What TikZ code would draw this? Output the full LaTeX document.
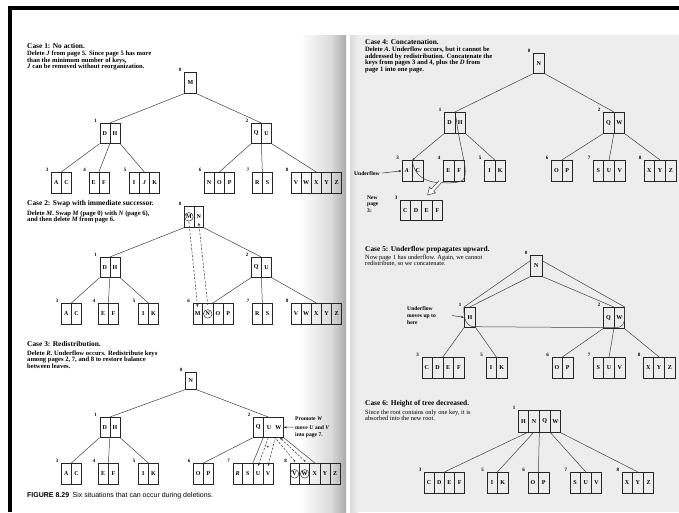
\documentclass[tikz,border=0pt]{standalone}
\usepackage{fontspec}
\setmainfont{Liberation Serif}
\setsansfont{Liberation Sans}
\usetikzlibrary{calc,arrows.meta}
\tikzset{
  pgbox/.style={draw=black!85,line width=0.7pt,minimum height=21pt,inner sep=0pt},
  pgdiv/.style={draw=black!85,line width=0.6pt},
  keyt/.style={font=\fontsize{6}{6}\selectfont\bfseries,inner sep=0pt},
  lbl/.style={font=\fontsize{5}{5}\selectfont\bfseries,inner sep=0pt},
  edge/.style={draw=black!75,line width=0.5pt},
  head/.style={anchor=base west,inner sep=0pt,font=\fontsize{7.4}{7.4}\selectfont\bfseries},
  body/.style={anchor=base west,inner sep=0pt,font=\fontsize{6.6}{6.7}\selectfont\bfseries},
  bodyr/.style={anchor=base west,inner sep=0pt,font=\fontsize{6.4}{6.7}\selectfont},
  note/.style={anchor=base west,inner sep=0pt,font=\fontsize{5.6}{6.6}\selectfont\bfseries},
  circ/.style={draw=black!80,line width=0.5pt},
  dasharr/.style={draw=black!80,line width=0.5pt,dashed,dash pattern=on 2.2pt off 1.5pt,-{Stealth[length=3pt,width=2.4pt]}},
  ptarr/.style={draw=black!80,line width=0.5pt,-{Stealth[length=3pt,width=2.4pt]}},
}
\newcommand\pg[6][]{%
  \def\pgn{0}%
  \foreach \k in {#6}{\xdef\pgn{\the\numexpr\pgn+1\relax}}%
  \node[pgbox,minimum width={\pgn*#4pt},anchor=north west,#1] (#2) at #3 {};%
  \foreach \k [count=\i] in {#6}{%
    \node[keyt] at ($(#2.west)!{(\i-0.5)/\pgn}!(#2.east)$) {\k};}%
  \ifnum\pgn>1\relax
    \foreach \i in {2,...,\pgn}{%
      \draw[pgdiv] ($(#2.north west)!{(\i-1)/\pgn}!(#2.north east)$) -- ($(#2.south west)!{(\i-1)/\pgn}!(#2.south east)$);}%
  \fi
  \node[lbl] at ($(#2.north west)+(-4,-2)$) {#5};%
}
\newcommand\ed[4][]{\draw[edge,#1] ($(#2.south west)!#3!(#2.south east)$) -- (#4.north);}
\begin{document}
\begin{tikzpicture}[x=1pt,y=-1pt]
\useasboundingbox (0,0) rectangle (679,512);
% backgrounds
\fill[white] (0,0) rectangle (679,512);
\shade[left color=white,right color=gray!30] (300,35) rectangle (333,512);
\shade[left color=gray!35,right color=gray!65] (333,35) rectangle (346,512);
\fill[gray!14] (350,35) rectangle (679,512);
\shade[left color=gray!28,right color=gray!14] (350,35) rectangle (358,512);
\fill[black] (8,6) rectangle (679,10);
\fill[black] (8,6) rectangle (12,512);

% ---------------- Case 1
\node[head] (t1) at (27,48) {Case 1: No action.};
\node[body] (t1a) at (27,55.5) {Delete \textit{J} from page 5. Since page 5 has more};
\node[body] (t1b) at (27,62.2) {than the minimum number of keys,};
\node[body] (t1c) at (27,68.9) {\textit{J} can be removed without reorganization.};
\pg[minimum height=21pt]{c1r}{(184,72)}{12}{0}{M}
\pg[minimum height=20pt]{c1a}{(99.5,123)}{10}{1}{D,H}
\pg[minimum height=20pt]{c1b}{(251,123)}{10}{2}{Q,U}
\pg{c1l3}{(51,172)}{10}{3}{A,C}
\pg{c1l4}{(88.5,172)}{10}{4}{E,F}
\pg{c1l5}{(129,172)}{10}{5}{I,\textit{J},K}
\pg{c1l6}{(204,172)}{10}{6}{N,O,P}
\pg{c1l7}{(252,172)}{10}{7}{R,S}
\pg{c1l8}{(291,172)}{10}{8}{V,W,X,Y,Z}
\ed{c1r}{0}{c1a} \ed{c1r}{1}{c1b}
\ed{c1a}{0}{c1l3} \ed{c1a}{0.5}{c1l4} \ed{c1a}{1}{c1l5}
\ed{c1b}{0}{c1l6} \ed{c1b}{0.5}{c1l7} \ed{c1b}{1}{c1l8}

% ---------------- Case 2
\node[head] (t2) at (27,205.5) {Case 2: Swap with immediate successor.};
\node[body] (t2a) at (27,215) {Delete \textit{M}. Swap \textit{M} (page 0) with \textit{N} (page 6),};
\node[body] (t2b) at (27,221.7) {and then delete \textit{M} from page 6.};
\pg{c2r}{(184,206)}{9.5}{0}{M,N}
\pg[minimum height=20pt]{c2a}{(99.5,257)}{10}{1}{D,H}
\pg[minimum height=20pt]{c2b}{(251,257)}{10}{2}{Q,U}
\pg{c2l3}{(61,303)}{10}{3}{A,C}
\pg{c2l4}{(98,303)}{10}{4}{E,F}
\pg{c2l5}{(138,303)}{10}{5}{I,K}
\pg{c2l6}{(192.5,303)}{10}{6}{M,N,O,P}
\pg{c2l7}{(252,303)}{10}{7}{R,S}
\pg{c2l8}{(291,303)}{10}{8}{V,W,X,Y,Z}
\ed{c2r}{0}{c2a} \ed{c2r}{1}{c2b}
\ed{c2a}{0}{c2l3} \ed{c2a}{0.5}{c2l4} \ed{c2a}{1}{c2l5}
\ed{c2b}{0}{c2l6} \ed{c2b}{0.5}{c2l7} \ed{c2b}{1}{c2l8}
\draw[circ] ($(c2r.west)!0.25!(c2r.east)$) circle (4.3pt);
\draw[circ] ($(c2l6.west)!0.375!(c2l6.east)$) circle (4.3pt);
\draw[dasharr] ($(c2r.west)!0.25!(c2r.east)+(0,5)$) -- ($(c2l6.north west)!0.125!(c2l6.north east)+(0,4)$);
\draw[dasharr] ($(c2l6.north west)!0.375!(c2l6.north east)+(0,2)$) -- ($(c2r.west)!0.75!(c2r.east)+(0,6)$);

% ---------------- Case 3
\node[head] (t3) at (27,346.5) {Case 3: Redistribution.};
\node[body] (t3a) at (27,355) {Delete \textit{R}. Underflow occurs. Redistribute keys};
\node[body] (t3b) at (27,361.7) {among pages 2, 7, and 8 to restore balance};
\node[body] (t3c) at (27,368.4) {between leaves.};
\pg[minimum height=17pt]{c3r}{(185,372)}{11}{0}{N}
\pg[minimum height=20pt]{c3a}{(99.5,417)}{10}{1}{D,H}
\node[pgbox,minimum width=30pt,minimum height=20pt,anchor=north west] (c3b) at (253,417) {};
\draw[pgdiv] ($(c3b.north west)!{1/3}!(c3b.north east)$) -- ($(c3b.south west)!{1/3}!(c3b.south east)$);
\node[keyt] at ($(c3b.west)!{1/6}!(c3b.east)$) {Q};
\node[keyt] at ($(c3b.west)!0.52!(c3b.east)$) {U};
\node[keyt] at ($(c3b.west)!0.83!(c3b.east)$) {W};
\node[lbl] at ($(c3b.north west)+(-4,-2)$) {2};
\pg{c3l3}{(61,463)}{10}{3}{A,C}
\pg{c3l4}{(98,463)}{10}{4}{E,F}
\pg{c3l5}{(138,463)}{10}{5}{I,K}
\pg{c3l6}{(193,463)}{10}{6}{O,P}
\pg{c3l7}{(232.5,463)}{10}{7}{\textit{R},S,U,V}
\pg{c3l8}{(289.5,463)}{10}{8}{V,W,X,Y,Z}
\ed{c3r}{0}{c3a} \ed{c3r}{1}{c3b}
\ed{c3a}{0}{c3l3} \ed{c3a}{0.5}{c3l4} \ed{c3a}{1}{c3l5}
\ed{c3b}{0}{c3l6} \ed{c3b}{0.333}{c3l7} \ed{c3b}{1}{c3l8}
\draw[circ] ($(c3l8.west)!0.1!(c3l8.east)$) circle (4.3pt);
\draw[circ] ($(c3l8.west)!0.3!(c3l8.east)$) circle (4.3pt);
\draw[dasharr] ($(c3b.south west)!0.5!(c3b.south east)$) -- ($(c3l7.north west)!0.625!(c3l7.north east)+(0,3)$);
\draw[dasharr] ($(c3l8.north west)!0.1!(c3l8.north east)+(0,-2)$) -- ($(c3b.south west)!0.72!(c3b.south east)$) -- ($(c3l7.north west)!0.875!(c3l7.north east)+(0,3)$);
\draw[dasharr] ($(c3l8.north west)!0.3!(c3l8.north east)+(0,-2)$) -- ($(c3b.south west)!0.88!(c3b.south east)$);
\fill[black!80] ($(c3b.south west)!0.5!(c3b.south east)+(-0.5,9)$) circle (0.9pt);
\fill[black!80] ($(c3l8.north west)!0.1!(c3l8.north east)+(0,-2)$) circle (0.9pt);
\fill[black!80] ($(c3l8.north west)!0.3!(c3l8.north east)+(0,-2)$) circle (0.9pt);
\node[note] (pr1) at (295,420) {Promote \textit{W}};
\node[note] (pr2) at (295,429) {move \textit{U} and \textit{V}};
\node[note] (pr3) at (295,436) {into page 7.};
\coordinate (promoarr) at (294,427);
\draw[ptarr] (promoarr) -- (c3b.east);

\node[anchor=base west,inner sep=0pt,font=\sffamily\fontsize{7}{8}\selectfont] (cap) at (27,497.5) {\textbf{FIGURE 8.29}\enspace Six situations that can occur during deletions.};

% ---------------- Case 4
\node[head] (t4) at (365,44) {Case 4: Concatenation.};
\node[body] (t4a) at (365,51.5) {Delete \textit{A}. Underflow occurs, but it cannot be};
\node[body] (t4b) at (365,58.2) {addressed by redistribution. Concatenate the};
\node[body] (t4c) at (365,64.9) {keys from pages 3 and 4, plus the \textit{D} from};
\node[body] (t4d) at (365,71.6) {page 1 into one page.};
\pg[minimum height=20pt]{c4r}{(533,53)}{11}{0}{N}
\pg{c4a}{(444,112)}{10.5}{1}{D,H}
\pg{c4b}{(603,112)}{10.5}{2}{Q,W}
\pg{c4l3}{(401.5,160)}{10.5}{3}{\textit{A},C}
\pg{c4l4}{(443,160)}{10.5}{4}{E,F}
\pg{c4l5}{(484,160)}{10.5}{5}{I,K}
\pg{c4l6}{(551,160)}{10.5}{6}{O,P}
\pg{c4l7}{(593,160)}{10.5}{7}{S,U,V}
\pg{c4l8}{(644,160)}{10.5}{8}{X,Y,Z}
\pg[minimum height=20pt]{c4n}{(400,200)}{10.5}{3}{C,D,E,F}
\ed{c4r}{0}{c4a} \ed{c4r}{1}{c4b}
\draw[edge,-{Stealth[length=2.5pt,width=2pt]}] (c4a.south west) -- (c4l3.north);
\ed{c4a}{1}{c4l5}
\ed{c4b}{0}{c4l6} \ed{c4b}{0.5}{c4l7} \ed{c4b}{1}{c4l8}
\draw[edge] ($(c4a.north west)!0.55!(c4a.north east)+(0,5)$) .. controls ($(c4a.south)+(6,20)$) and ($(c4l4.east)+(4,0)$) .. ($(c4l4.south east)+(-1,-3)$) .. controls ($(c4l4.south east)+(-3,2)$) and ($(c4l4.south west)+(5,1)$) .. ($(c4l4.south west)+(-2,1)$);
\draw[edge] (c4l3.north) .. controls ($(c4l3.center)+(1,4)$) and ($(c4l3.south east)+(2,1)$) .. ($(c4l4.south west)+(-2,1)$);
\begin{scope}[shift={(440,182)},rotate=226.7]
\draw[edge,fill=white] (0,-1.6) -- (11,-1.6) -- (11,-4.2) -- (18,0) -- (11,4.2) -- (11,1.6) -- (0,1.6);
\end{scope}
\node[note] (uf4) at (354,175) {Underflow};
\draw[ptarr] (uf4.east) ++(2,0) -- (c4l3.west);
\node[note] (np1) at (367,199) {New};
\node[note] (np2) at (367,205.5) {page};
\node[note] (np3) at (367,212) {3:};

% ---------------- Case 5
\node[head] (t5) at (365,251.5) {Case 5: Underflow propagates upward.};
\node[bodyr] (t5a) at (365,259) {Now page 1 has underflow. Again, we cannot};
\node[bodyr] (t5b) at (365,265.7) {redistribute, so we concatenate.};
\pg[minimum height=21pt]{c5r}{(530,255)}{12}{0}{N}
\pg[minimum height=20pt]{c5a}{(464,307)}{11}{1}{H}
\pg{c5b}{(603,307)}{10.5}{2}{Q,W}
\pg{c5l3}{(421.5,357)}{10.5}{3}{C,D,E,F}
\pg{c5l5}{(485.5,357)}{10.5}{5}{I,K}
\pg{c5l6}{(551.5,357)}{10.5}{6}{O,P}
\pg{c5l7}{(593,357)}{10.5}{7}{S,U,V}
\pg{c5l8}{(643,357)}{10.5}{8}{X,Y,Z}
\ed{c5r}{0}{c5a} \ed{c5r}{1}{c5b}
\ed{c5a}{0}{c5l3} \ed{c5a}{1}{c5l5}
\ed{c5b}{0}{c5l6} \ed{c5b}{0.5}{c5l7} \ed{c5b}{1}{c5l8}
\draw[edge] ($(c5r.north west)+(0,6)$) -- (c5a.north west) .. controls ($(c5a.north west)+(-1,12)$) and ($(c5a.south west)+(3,0)$) .. ($(c5a.south east)+(0,-1)$) -- ($(c5b.south west)!0.55!(c5b.south east)+(0,-1)$) .. controls ($(c5b.south east)+(-2,-1)$) and ($(c5b.south east)+(0,-5)$) .. ($(c5b.north east)+(0,9)$) -- (c5b.north east) -- ($(c5r.north east)+(0,6)$);
\node[note] (uf5a) at (407,310) {Underflow};
\node[note] (uf5b) at (407,317) {moves up to};
\node[note] (uf5c) at (407,324) {here};
\coordinate (uf5arr) at (452,315.5);
\draw[ptarr] (uf5arr) -- (c5a.west);

% ---------------- Case 6
\node[head] (t6) at (365,405.5) {Case 6: Height of tree decreased.};
\node[bodyr] (t6a) at (365,414) {Since the root contains only one key, it is};
\node[bodyr] (t6b) at (365,420.7) {absorbed into the new root.};
\pg[minimum height=22pt]{c6r}{(518,410)}{10.5}{1}{H,N,Q,W}
\pg{c6l3}{(424,472)}{10}{3}{C,D,E,F}
\pg{c6l5}{(486.5,472)}{10.5}{5}{I,K}
\pg{c6l6}{(527.5,472)}{10.5}{6}{O,P}
\pg{c6l7}{(569.75,472)}{10.5}{7}{S,U,V}
\pg{c6l8}{(621.75,472)}{10.5}{8}{X,Y,Z}
\ed{c6r}{0.21}{c6l3} \ed{c6r}{0.36}{c6l5} \ed{c6r}{0.5}{c6l6} \ed{c6r}{0.76}{c6l7} \ed{c6r}{1}{c6l8}
\end{tikzpicture}
\end{document}
